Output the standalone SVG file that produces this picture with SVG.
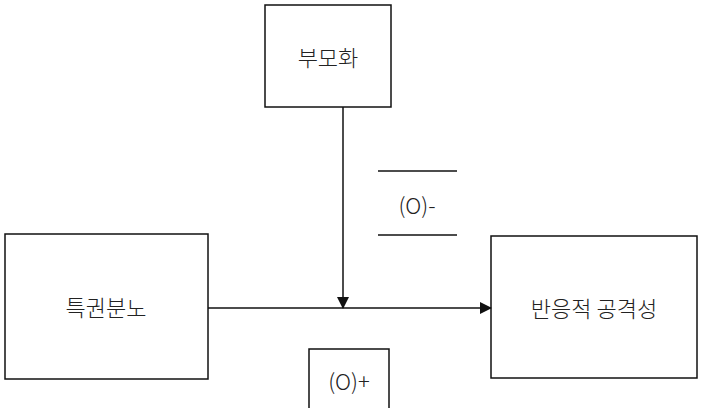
<svg xmlns="http://www.w3.org/2000/svg" width="703" height="408" viewBox="0 0 703 408">
<style>
.b{fill:#fff;stroke:#111;stroke-width:1.5}
.t{font-family:"Noto Sans CJK KR","Liberation Sans",sans-serif;font-size:22px;font-weight:300;fill:#222;text-anchor:middle;dominant-baseline:central}
.l{stroke:#111;stroke-width:1.5;fill:none}
</style>
<defs><marker id="a" markerWidth="12" markerHeight="12" refX="11" refY="6" orient="auto" markerUnits="userSpaceOnUse"><path d="M0,0L12,6L0,12z" fill="#111"/></marker></defs>
<rect width="703" height="408" fill="#fff"/>
<g id="n1"><rect class="b" x="265" y="5" width="126" height="102"/><text class="t" x="328" y="56">부모화</text></g>
<g id="n2"><rect class="b" x="5" y="234" width="203" height="145"/><text class="t" x="106" y="306">특권분노</text></g>
<g id="n3"><rect class="b" x="491" y="236" width="206" height="142"/><text class="t" x="594" y="307">반응적 공격성</text></g>
<g id="c">
<line class="l" x1="208" y1="308" x2="491" y2="308" marker-end="url(#a)"/>
<line class="l" x1="343" y1="107" x2="343" y2="308" marker-end="url(#a)"/>
</g>
<g id="lab1"><line class="l" x1="378" y1="171" x2="457" y2="171"/><line class="l" x1="378" y1="235" x2="457" y2="235"/><text class="t" x="417" y="204">(O)-</text></g>
<g id="lab2"><rect class="b" x="309" y="349" width="80" height="70"/><text class="t" x="349" y="380">(O)+</text></g>
</svg>
